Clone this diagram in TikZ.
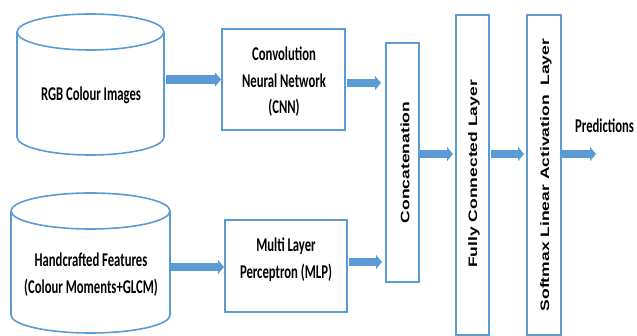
\documentclass[tikz,border=0pt]{standalone}
\usepackage{fontspec}
\usetikzlibrary{arrows.meta,calc}
\newfontfamily\labelfont[FakeStretch=0.65]{Carlito}
\newfontfamily\layerfont[FakeStretch=1.43]{Liberation Sans}
\definecolor{edgeblue}{HTML}{5B9BD5}
\definecolor{flowblue}{HTML}{5B9BD5}

\begin{document}
\begin{tikzpicture}[x=1pt,y=-1pt,
  box/.style={draw=edgeblue, line width=1.6pt, inner sep=0pt, outer sep=0pt},
  body/.style={inner sep=0pt, outer sep=0pt},
  cyl/.style={draw=edgeblue, line width=1.6pt},
  lbl/.style={inner sep=0pt, align=center, text=black,
    font=\labelfont\bfseries\fontsize{19.5}{26.5}\selectfont},
  layer/.style={inner sep=0pt, rotate=90, text=black,
    font=\layerfont\bfseries\fontsize{12.25}{14}\selectfont},
  flow/.style={draw=flowblue, line width=8.5pt,
    -{Triangle[length=6pt, width=14pt]}}
]
\useasboundingbox (0,0) rectangle (637,336);

% input stores
\node[body, minimum width=147pt, minimum height=141pt] (cyl1body) at (90.5,84.5) {};
\draw[cyl] (17,32) -- (17,137)
  arc[start angle=180, end angle=360, x radius=73.5pt, y radius=18pt] -- (164,32);
\draw[cyl] (90.5,32) ellipse[x radius=73.5pt, y radius=18pt];
\node[lbl, anchor=base] (rgb) at (91,101) {RGB Colour Images};

\node[body, minimum width=159pt, minimum height=140pt] (cyl2body) at (90.5,263) {};
\draw[cyl] (11,211) -- (11,315)
  arc[start angle=180, end angle=360, x radius=79.5pt, y radius=18pt] -- (170,211);
\draw[cyl] (90.5,211) ellipse[x radius=79.5pt, y radius=18pt];
\node[lbl] (hand) at (91,274.5) {Handcrafted Features\\(Colour Moments+GLCM)};

% feature extractors
\node[box, minimum width=123pt, minimum height=101pt] (cnn) at (283.5,79.5) {};
\node[lbl] (cnntext) at (284,81.7) {Convolution\\Neural Network\\(CNN)};
\node[box, minimum width=122pt, minimum height=92pt] (mlp) at (286,266) {};
\node[lbl] (mlptext) at (286,259.5) {Multi Layer\\Perceptron (MLP)};

% fusion and classification layers
\node[box, minimum width=33pt, minimum height=239pt] (concat) at (402.5,162.5) {};
\node[layer] (concattext) at (405,162.5) {Concatenation};
\node[box, minimum width=33pt, minimum height=320pt] (fc) at (472.5,175) {};
\node[layer] (fctext) at (474,174) {Fully Connected Layer};
\node[box, minimum width=34pt, minimum height=320pt] (sm) at (544,175) {};
\node[layer] (smtext) at (546,175) {Softmax Linear Activation\ \ Layer};

\node[lbl, anchor=base west] (pred) at (575,133) {Predictions};
\coordinate (out) at (596,154);
\coordinate (mid) at (0,154);

% data flow
\draw[flow, shorten <=2pt, shorten >=1pt] (cyl1body.east |- cnn.west) -- (cnn.west);
\draw[flow, shorten <=1pt, shorten >=1pt] ($(cyl2body.east |- mlp.west)+(0,1)$) -- ($(mlp.west)+(0,1)$);
\draw[flow, shorten <=2pt, shorten >=5pt] ($(cnn.east)+(0,3.5)$) -- ($(cnn.east -| concat.west)+(0,3.5)$);
\draw[flow, shorten <=2pt, shorten >=4pt] ($(mlp.east)+(0,-4)$) -- ($(mlp.east -| concat.west)+(0,-4)$);
\draw[flow, shorten <=1pt, shorten >=3pt] (concat.east |- mid) -- (fc.west |- mid);
\draw[flow, shorten <=2pt, shorten >=3pt] (fc.east |- mid) -- (sm.west |- mid);
\draw[flow, shorten <=1pt] (sm.east |- mid) -- (out);
\end{tikzpicture}
\end{document}
